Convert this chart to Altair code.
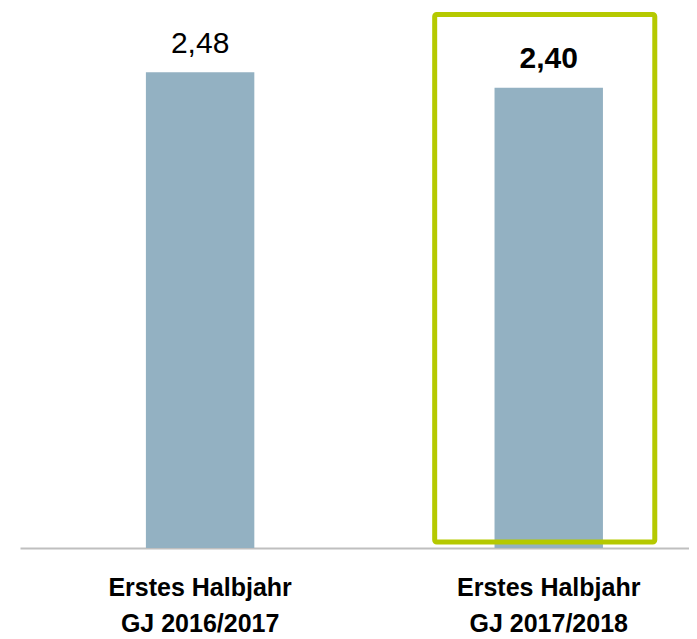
import altair as alt
import pandas as pd

categories = ["Erstes Halbjahr|GJ 2016/2017", "Erstes Halbjahr|GJ 2017/2018"]
values = [2.48, 2.40]
weights = ["normal", "bold"]

highlight_category = ["Erstes Halbjahr|GJ 2017/2018"]
highlight_top = [2.782]
highlight_bottom = [0.031]

df = pd.DataFrame({"cat": categories, "value": values, "weight": weights})
hl = pd.DataFrame({"cat": highlight_category, "top": highlight_top, "bottom": highlight_bottom})

FONT = "Liberation Sans"

xscale = alt.Scale(domain=categories, paddingInner=0.689, paddingOuter=0.304, align=0.594)
yscale = alt.Scale(domain=[0, 2.8], nice=False, zero=True)

xenc = alt.X("cat:N", scale=xscale, sort=None, title=None,
             axis=alt.Axis(labelAngle=0, ticks=False, domainColor="#bfbfbf", domainWidth=2,
                           labelFont=FONT, labelFontSize=25, labelFontWeight="bold",
                           labelColor="#000000", labelLineHeight=36, labelPadding=27,
                           labelLimit=0,
                           labelExpr="split(datum.label, '|')", labelBaseline="top"))

bars = alt.Chart(df).mark_bar(color="#93b1c2").encode(
    x=xenc,
    y=alt.Y("value:Q", scale=yscale, axis=None),
)

base_text = alt.Chart(df).transform_calculate(
    lbl="replace(format(datum.value, '.2f'), '.', ',')"
)

text_normal = base_text.transform_filter("datum.weight == 'normal'").mark_text(
    font=FONT, fontSize=30, baseline="alphabetic", dy=-19, color="#000000"
).encode(x=alt.X("cat:N", scale=xscale, sort=None), y=alt.Y("value:Q", scale=yscale), text="lbl:N")

text_bold = base_text.transform_filter("datum.weight == 'bold'").mark_text(
    font=FONT, fontSize=30, fontWeight="bold", baseline="alphabetic", dy=-20, color="#000000"
).encode(x=alt.X("cat:N", scale=xscale, sort=None), y=alt.Y("value:Q", scale=yscale), text="lbl:N")

box = alt.Chart(hl).mark_bar(
    filled=False, color="#b5c900", strokeWidth=5, width={"band": 2.03}, xOffset=-4,
    cornerRadius=2
).encode(
    x=alt.X("cat:N", scale=xscale, sort=None),
    y=alt.Y("top:Q", scale=yscale),
    y2="bottom:Q",
)

chart = alt.layer(bars, text_normal, text_bold, box).properties(
    width=669, height=537,
    padding={"left": 12, "top": 3, "right": 0, "bottom": 0},
).configure_view(stroke=None).configure_axis(grid=False)

chart.save("out.html", embed_options={"renderer": "svg", "actions": False})
